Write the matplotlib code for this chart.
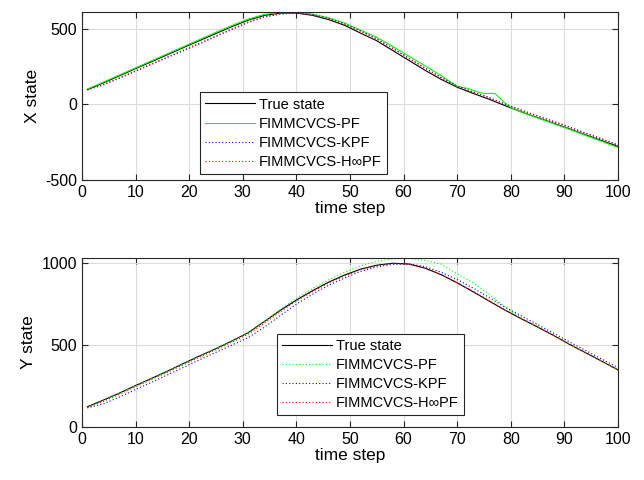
import matplotlib
matplotlib.use("Agg")
import matplotlib.pyplot as plt

plt.rcParams['font.family'] = ['Liberation Sans', 'DejaVu Sans']
plt.rcParams['axes.unicode_minus'] = False

t = [1, 4, 7, 10, 13, 16, 19, 22, 25, 28, 31, 34, 37, 40, 43, 46, 49, 52, 55, 58,
     61, 64, 67, 70, 73, 76, 79, 82, 85, 88, 91, 94, 97, 100]

x_true = [97, 142, 189, 236, 282, 329, 376, 422, 468, 514, 556, 587, 603, 603, 588, 560, 522, 470,
          420, 355, 290, 225, 165, 113, 72, 33, -10, -50, -88, -125, -163, -202, -240, -278]
t_pf_x = [1, 4, 7, 10, 13, 16, 19, 22, 25, 28, 31, 34, 37, 40, 43, 46, 49, 52, 55, 58,
          61, 64, 67, 70, 72, 74, 75, 77, 78, 79, 80, 82, 85, 88, 91, 94, 97, 100]
x_pf = [100, 147, 194, 241, 288, 335, 382, 429, 476, 521, 563, 594, 609, 609, 596, 572, 537, 490,
        443, 382, 318, 255, 190, 119, 105, 80, 72, 72, 40, 5, -20, -52, -90, -128, -166, -206, -245, -285]
x_kpf = [95, 128, 172, 218, 264, 310, 355, 400, 448, 495, 540, 576, 596, 603, 592, 568, 532, 485,
         433, 370, 305, 240, 178, 122, 82, 45, 2, -38, -76, -112, -150, -190, -228, -268]
x_hpf = [98, 132, 176, 222, 268, 314, 360, 405, 452, 499, 544, 579, 598, 604, 591, 566, 530, 482,
         431, 368, 303, 238, 176, 120, 80, 42, 0, -40, -78, -115, -153, -192, -230, -272]

y_true = [122, 163, 206, 252, 296, 341, 388, 434, 478, 525, 575, 643, 712, 775, 832, 884, 928, 964,
          988, 1000, 995, 970, 930, 880, 825, 768, 712, 660, 610, 558, 503, 452, 400, 348]
y_pf = [118, 160, 204, 250, 294, 340, 386, 433, 478, 524, 574, 645, 718, 785, 845, 898, 945, 985,
        1012, 1027, 1030, 1018, 995, 935, 880, 810, 730, 665, 614, 560, 505, 453, 400, 345]
y_kpf = [115, 140, 182, 228, 272, 318, 364, 410, 455, 500, 545, 608, 680, 750, 810, 865, 910, 950,
         978, 993, 996, 980, 945, 900, 848, 790, 730, 678, 625, 572, 518, 466, 413, 362]
y_hpf = [118, 155, 198, 244, 289, 334, 380, 427, 472, 518, 566, 632, 703, 768, 826, 879, 922, 960,
         985, 998, 994, 970, 932, 882, 828, 770, 712, 661, 611, 559, 505, 453, 401, 347]

labels = ['True state', 'FIMMCVCS-PF', 'FIMMCVCS-KPF', 'FIMMCVCS-H\u221ePF']
xticks = [0, 10, 20, 30, 40, 50, 60, 70, 80, 90, 100]

fig = plt.figure(figsize=(6.44, 4.8), dpi=100)
ax1 = fig.add_axes([0.1273, 0.625, 0.8323, 0.35])
ax2 = fig.add_axes([0.1273, 0.111, 0.8323, 0.3525])

lw = 0.8
dot = (0, (1, 2))
ax1.plot(t, x_true, color='black', lw=lw, label=labels[0])
ax1.plot(t_pf_x, x_pf, color='#00ff00', lw=lw, label=labels[1])
ax1.plot(t, x_kpf, color='#0000ff', lw=lw, ls=dot, label=labels[2])
ax1.plot(t, x_hpf, color='#ff0000', lw=lw, ls=dot, label=labels[3])

ax2.plot(t, y_true, color='black', lw=lw, label=labels[0])
ax2.plot(t, y_pf, color='#00ff00', lw=lw, ls=dot, label=labels[1])
ax2.plot(t, y_kpf, color='#0000ff', lw=lw, ls=dot, label=labels[2])
ax2.plot(t, y_hpf, color='#ff0000', lw=lw, ls=dot, label=labels[3])

for ax in (ax1, ax2):
    ax.set_xlim(0, 100)
    ax.set_xticks(xticks)
    ax.grid(True, color='#dcdcdc', lw=0.8)
    ax.set_axisbelow(True)
    ax.tick_params(direction='in', top=True, right=True, length=4, width=0.8,
                   labelsize=11.5, colors='#262626', labelcolor='black')
    for s in ax.spines.values():
        s.set_color('#262626')
        s.set_linewidth(0.8)
    ax.set_xlabel('time step', fontsize=12.5, labelpad=1)

ax1.set_ylim(-500, 610)
ax1.set_yticks([-500, 0, 500])
ax1.set_ylabel('X state', fontsize=12.5)
ax2.set_ylim(0, 1035)
ax2.set_yticks([0, 500, 1000])
ax2.set_ylabel('Y state', fontsize=12.5)

leg_kw = dict(fontsize=10.5, frameon=True, fancybox=False, framealpha=1, edgecolor='#262626',
              handlelength=3.4, handletextpad=0.3, borderaxespad=0, labelspacing=0.35,
              borderpad=0.35)
l1 = ax1.legend(loc='lower left', bbox_to_anchor=(0.22, 0.036), **leg_kw)
l2 = ax2.legend(loc='lower left', bbox_to_anchor=(0.364, 0.069), **leg_kw)
for l in (l1, l2):
    l.get_frame().set_linewidth(0.8)

fig.savefig('out.png', dpi=100)
